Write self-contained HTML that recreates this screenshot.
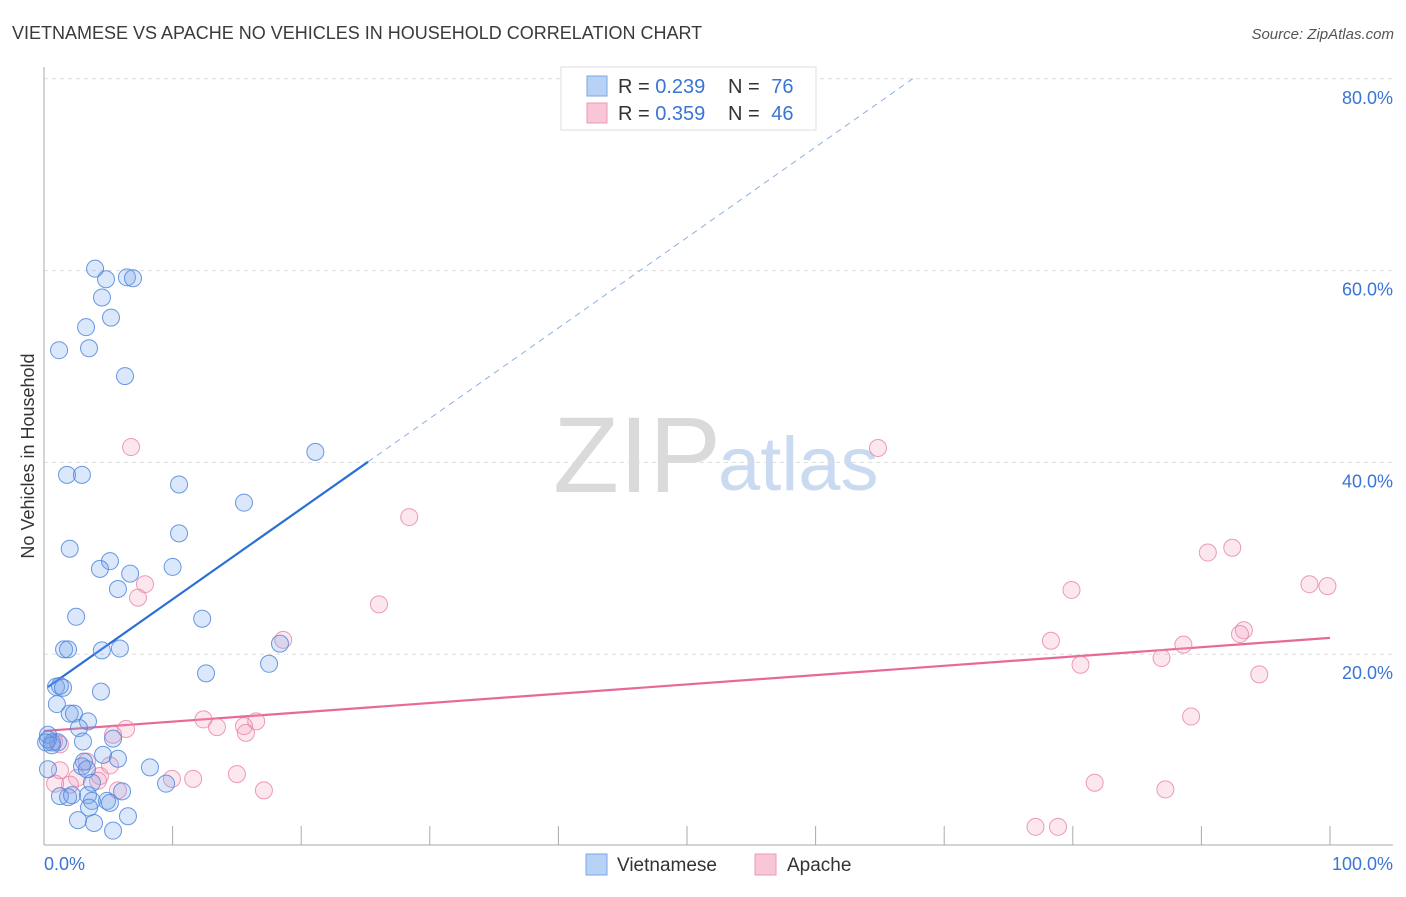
<!DOCTYPE html>
<html><head><meta charset="utf-8"><style>
body{margin:0;background:#fff;font-family:"Liberation Sans",sans-serif}
svg text{font-family:"Liberation Sans",sans-serif}
</style></head><body>
<svg width="1406" height="892" id="chart">
<text x="12" y="39" font-size="18" fill="#3a3a3a">VIETNAMESE VS APACHE NO VEHICLES IN HOUSEHOLD CORRELATION CHART</text>
<text x="1394" y="39" font-size="15" fill="#555" font-style="italic" text-anchor="end">Source: ZipAtlas.com</text>
<g>
<text x="553" y="492" font-size="108" fill="#dadada" font-family="Liberation Serif,serif">ZIP</text>
<text x="718" y="490" font-size="76" fill="#c9daf1">atlas</text>
</g>
<g id="grid"></g>
<g id="axes"></g>
<g id="lines"></g>
<g id="points"></g>
<text x="34" y="456" font-size="18" fill="#333" text-anchor="middle" transform="rotate(-90 34 456)">No Vehicles in Household</text>
<g>
<rect x="561" y="67" width="255" height="63" fill="#fff" stroke="#ddd"/>
<rect x="587" y="76" width="20" height="20" fill="#b8d2f6" stroke="#7aa6e6"/>
<rect x="587" y="103" width="20" height="20" fill="#f9c6d6" stroke="#ec9ab5"/>
<text x="618" y="93" font-size="20" fill="#333">R = <tspan fill="#3a74d4">0.239</tspan></text>
<text x="728" y="93" font-size="20" fill="#333">N = <tspan dx="6" fill="#3a74d4">76</tspan></text>
<text x="618" y="120" font-size="20" fill="#333">R = <tspan fill="#3a74d4">0.359</tspan></text>
<text x="728" y="120" font-size="20" fill="#333">N = <tspan dx="6" fill="#3a74d4">46</tspan></text>
</g>
<g>
<rect x="586" y="854" width="21" height="21" fill="#b8d2f6" stroke="#7aa6e6"/>
<text x="617" y="871" font-size="19" fill="#333">Vietnamese</text>
<rect x="755" y="854" width="21" height="21" fill="#f9c6d6" stroke="#ec9ab5"/>
<text x="787" y="871" font-size="19" fill="#333">Apache</text>
</g>
</svg>
<script>
const yTicks=[20,40,60,80];
const yTickLabels=["20.0%","40.0%","60.0%","80.0%"];
const xTicks=[0,10,20,30,40,50,60,70,80,90,100];
const blueX=[3.97,6.45,6.92,4.82,4.51,5.21,3.27,1.17,3.5,6.3,21.1,1.79,2.95,10.5,15.55,10.5,2.0,5.13,4.35,10.0,6.7,5.75,2.5,12.3,18.35,1.56,1.87,4.5,5.9,17.5,12.6,0.93,1.24,1.48,4.43,1.0,2.0,2.33,3.42,2.72,0.31,0.62,1.09,3.03,5.37,4.59,5.75,3.11,2.95,8.24,0.31,3.34,3.73,9.49,1.24,1.87,2.18,3.42,3.73,4.9,5.13,6.07,3.5,2.64,6.53,3.89,5.37,0.3,0.16,0.6];
const blueY=[60.2,59.3,59.2,59.1,57.2,55.1,54.1,51.7,51.9,49.0,41.1,38.7,38.7,37.7,35.8,32.6,31.0,29.7,28.9,29.1,28.4,26.8,23.9,23.7,21.1,20.5,20.5,20.4,20.6,19.0,18.0,16.6,16.7,16.5,16.1,14.8,13.8,13.8,13.0,12.3,11.6,10.8,10.8,10.9,11.2,9.5,9.1,8.8,8.3,8.2,8.0,8.0,6.6,6.5,5.2,5.1,5.3,5.3,4.7,4.7,4.5,5.7,4.0,2.7,3.1,2.4,1.6,11.1,10.8,10.5];
const pinkX=[6.77,64.85,28.4,92.4,90.5,98.4,99.8,79.9,7.85,7.31,26.05,93.3,93.0,18.6,78.3,88.6,86.9,80.6,94.5,12.4,6.38,16.5,15.55,13.45,15.7,5.37,89.2,0.78,1.24,15.0,11.6,9.95,4.35,2.57,2.02,0.86,4.2,5.75,17.1,81.7,87.2,77.1,78.85,3.34,1.24,5.13];
const pinkY=[41.6,41.5,34.3,31.1,30.6,27.3,27.1,26.7,27.3,25.9,25.2,22.5,22.1,21.5,21.4,21.0,19.6,18.9,17.9,13.2,12.2,13.0,12.5,12.4,11.8,11.6,13.5,10.9,10.6,7.5,7.0,7.0,7.3,7.1,6.4,6.5,6.8,5.8,5.8,6.6,5.9,2.0,2.0,8.8,7.9,8.4];
const blueTrend=[16.3,0.943];
const pinkTrend=[12.0,0.097];
const NS="http://www.w3.org/2000/svg";
const X0=44,X1=1330,Y0=846,PY=9.59;
const sx=v=>X0+(X1-X0)*v/100;
const sy=v=>Y0-v*PY;
function mk(tag,attrs,parent){const e=document.createElementNS(NS,tag);for(const k in attrs)e.setAttribute(k,attrs[k]);document.getElementById(parent).appendChild(e);return e;}
yTicks.forEach((t,i)=>{
 const g=mk('line',{x1:44,x2:1393,y1:sy(t),y2:sy(t),stroke:'#ddd','stroke-dasharray':'4,4'},'grid');
 
 
 const l=mk('text',{x:1393,y:sy(t)+25,'font-size':18,fill:'#3a74d4','text-anchor':'end'},'grid');
 l.textContent=yTickLabels[i];
 
 
});
const ya=mk('line',{x1:44,x2:44,y1:67,y2:845,stroke:'#aaa'},'axes');


const xa=mk('line',{x1:44,x2:1393,y1:845,y2:845,stroke:'#aaa'},'axes');


xTicks.forEach(t=>{
 const k=mk('line',{x1:sx(t),x2:sx(t),y1:826,y2:845,stroke:'#aaa'},'axes');
 
 
});
const xl0=mk('text',{x:44,y:870,'font-size':18,fill:'#3a74d4'},'axes');xl0.textContent='0.0%';


const xl1=mk('text',{x:1393,y:870,'font-size':18,fill:'#3a74d4','text-anchor':'end'},'axes');xl1.textContent='100.0%';


function pts(xs,ys,fill,stroke,name){xs.forEach((x,i)=>{
 const c=mk('circle',{cx:sx(x),cy:sy(ys[i]),r:8.5,fill:fill,stroke:stroke,'stroke-width':1},'points');
 
 
});}
pts(pinkX,pinkY,'rgba(244,160,190,0.25)','rgba(232,130,165,0.8)','apache-point');
pts(blueX,blueY,'rgba(110,160,235,0.25)','rgba(80,135,220,0.85)','vietnamese-point');
const bx1=25.2,bxEnd=(80-blueTrend[0])/blueTrend[1];
const bl=mk('line',{x1:sx(0.3),y1:sy(blueTrend[0]+blueTrend[1]*0.3),x2:sx(bx1),y2:sy(blueTrend[0]+blueTrend[1]*bx1),stroke:'#2a6fd6','stroke-width':2.2},'lines');


const bd=mk('line',{x1:sx(bx1),y1:sy(blueTrend[0]+blueTrend[1]*bx1),x2:sx(bxEnd),y2:sy(80),stroke:'#8fb0e0','stroke-width':1,'stroke-dasharray':'6,5'},'lines');


const pl=mk('line',{x1:sx(0),y1:sy(pinkTrend[0]),x2:sx(100),y2:sy(pinkTrend[0]+pinkTrend[1]*100),stroke:'#e8689a','stroke-width':2.2},'lines');


</script>
</body></html>
